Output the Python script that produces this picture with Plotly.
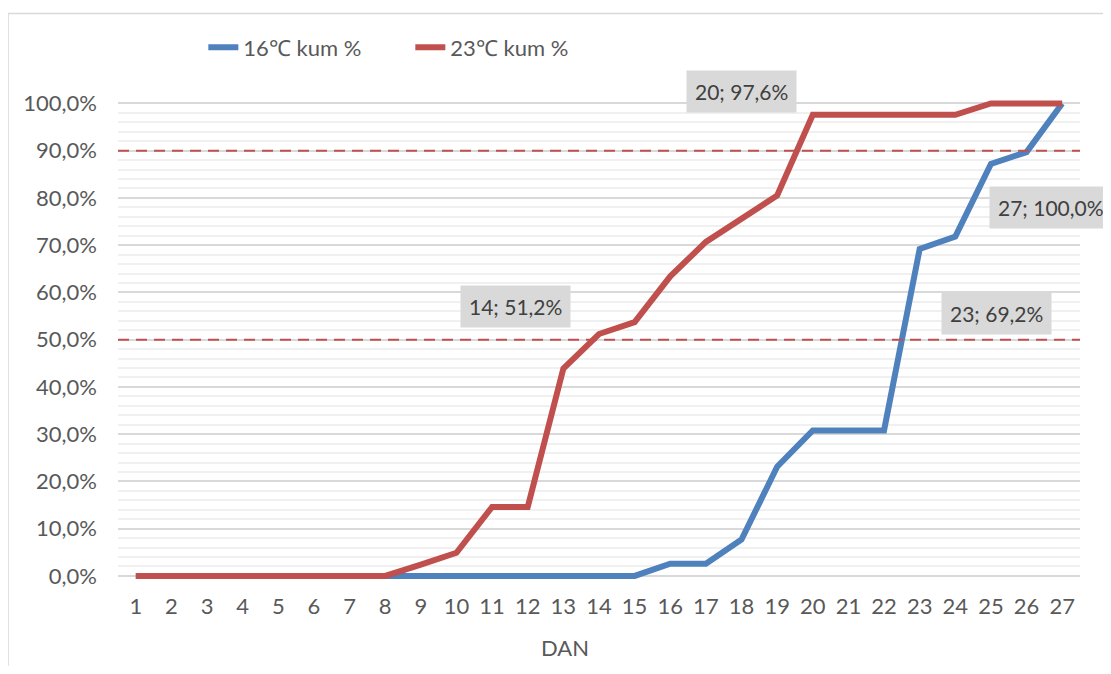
import plotly.graph_objects as go

days = list(range(1, 28))
s16 = [0, 0, 0, 0, 0, 0, 0, 0, 0, 0, 0, 0, 0, 0, 0,
       2.6, 2.6, 7.7, 23.1, 30.8, 30.8, 30.8, 69.2, 71.8, 87.2, 89.7, 100.0]
s23 = [0, 0, 0, 0, 0, 0, 0, 0, 2.4, 4.9, 14.6, 14.6, 43.9, 51.2, 53.7,
       63.4, 70.7, 75.6, 80.5, 97.6, 97.6, 97.6, 97.6, 97.6, 100.0, 100.0, 100.0]
names = ["16℃ kum %", "23℃ kum %"]
thresholds = [90, 50]
labels = [
    ("20; 97,6%", 17.99, 102.5),
    ("14; 51,2%", 11.67, 57.1),
    ("27; 100,0%", 26.69, 78.0),
    ("23; 69,2%", 25.17, 55.6),
]

FONT = "Lato"
BLUE = "#4f81bd"
RED = "#c0504d"
FS = 22
XR = [0.5, 27.5]
YR = [-1.5, 102]

fig = go.Figure()
fig.add_trace(go.Scatter(x=days, y=s16, mode="lines", name=names[0],
                         line=dict(color=BLUE, width=6)))
fig.add_trace(go.Scatter(x=days, y=s23, mode="lines", name=names[1],
                         line=dict(color=RED, width=6)))

for t in thresholds:
    fig.add_shape(type="line", xref="paper", x0=0, x1=1, yref="y", y0=t, y1=t,
                  line=dict(color=RED, width=2, dash="11px,7px"), layer="above")

for txt, x, y in labels:
    fig.add_annotation(xref="paper", yref="paper",
                       x=(x - XR[0]) / (XR[1] - XR[0]),
                       y=(y - YR[0]) / (YR[1] - YR[0]),
                       xanchor="center", yanchor="middle",
                       text=txt, showarrow=False,
                       font=dict(family=FONT, size=21, color="#404040"),
                       bgcolor="#d9d9d9", borderpad=8)

fig.add_annotation(xref="paper", yref="paper", x=0.465, y=-0.131, text="DAN",
                   xanchor="center", yanchor="middle", showarrow=False,
                   font=dict(family=FONT, size=FS, color="#595959"))

# chart border (left and top visible)
fig.add_shape(type="line", xref="paper", yref="paper", x0=-0.1143, x1=-0.1143,
              y0=-0.3, y1=1.1645, line=dict(color="#d9d9d9", width=1.5))
fig.add_shape(type="line", xref="paper", yref="paper", x0=-0.1143, x1=1.1,
              y0=1.1645, y1=1.1645, line=dict(color="#d9d9d9", width=1.5))

# page body has an 8px margin: size and margins compensate for it
fig.update_layout(
    width=1095, height=658,
    margin=dict(l=110, r=23, t=85.5, b=83, autoexpand=False),
    paper_bgcolor="white", plot_bgcolor="white",
    font=dict(family=FONT, size=FS, color="#595959"),
    showlegend=True,
    legend=dict(orientation="h", x=0.0887, xanchor="left", y=1.095, yanchor="middle",
                entrywidth=162, entrywidthmode="pixels",
                font=dict(family=FONT, size=FS, color="#595959"),
                bgcolor="rgba(0,0,0,0)"),
)
fig.update_xaxes(range=XR, tickmode="array", tickvals=days,
                 ticktext=[str(d) for d in days], showgrid=False, zeroline=False,
                 showline=False, ticks="", ticklabelstandoff=8, automargin=False,
                 tickfont=dict(family=FONT, size=FS, color="#595959"))
fig.update_yaxes(range=YR, tickmode="array",
                 tickvals=list(range(0, 101, 10)),
                 ticktext=[f"{v},0%" for v in range(0, 101, 10)],
                 showgrid=True, gridcolor="#d9d9d9", gridwidth=1.5,
                 zeroline=False, showline=False, ticks="", ticklabelstandoff=20,
                 automargin=False,
                 tickfont=dict(family=FONT, size=FS, color="#595959"),
                 minor=dict(tickvals=[v for v in range(2, 100, 2) if v % 10],
                            showgrid=True, gridcolor="#f0f0f0", gridwidth=1.5))

fig.write_html("out.html")
